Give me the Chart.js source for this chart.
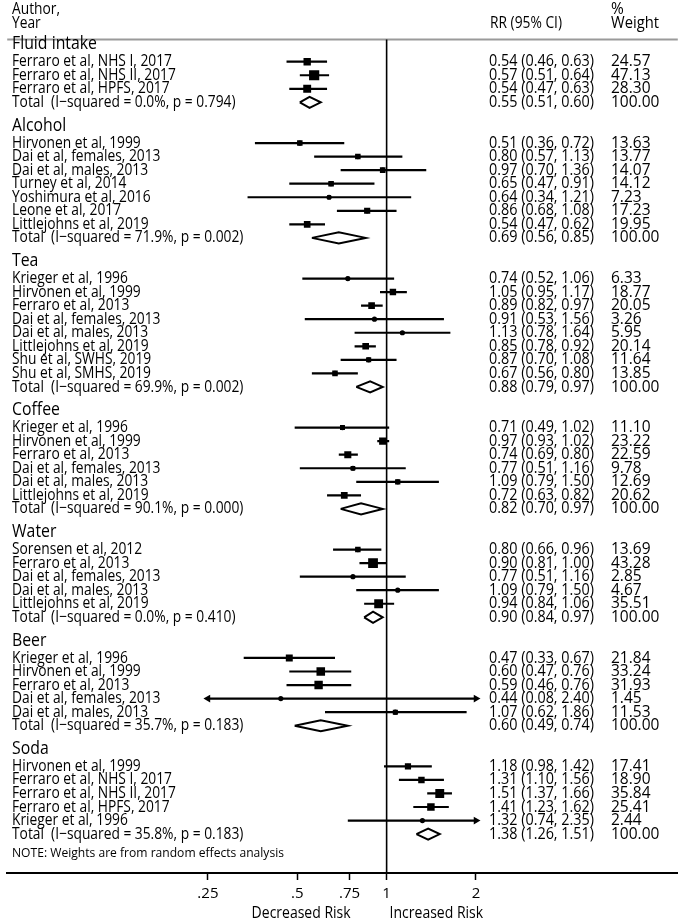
<!DOCTYPE html>
<html>
<head>
<meta charset="utf-8">
<script src="https://cdn.jsdelivr.net/npm/chart.js@4.4.1/dist/chart.umd.min.js"></script>
<style>
html, body { margin: 0; padding: 0; background: #fff; }
#wrap { width: 685px; height: 921px; position: relative; }
</style>
</head>
<body>
<div id="wrap"><canvas id="forest"></canvas></div>
<script>
// subgroups
const groupNames = ['Fluid intake', 'Alcohol', 'Tea', 'Coffee', 'Water', 'Beer', 'Soda'];
const groupSizes = [3, 7, 8, 6, 5, 5, 5];
const groupRR = [0.55, 0.69, 0.88, 0.82, 0.90, 0.60, 1.38];
const groupLo = [0.51, 0.56, 0.79, 0.70, 0.84, 0.49, 1.26];
const groupHi = [0.60, 0.85, 0.97, 0.97, 0.97, 0.74, 1.51];
const groupI2 = ['0.0', '71.9', '69.9', '90.1', '0.0', '35.7', '35.8'];
const groupP = ['0.794', '0.002', '0.002', '0.000', '0.410', '0.183', '0.183'];

// studies, in order of the subgroups above
const studyLabels = [
    'Ferraro et al, NHS I, 2017', 'Ferraro et al, NHS II, 2017', 'Ferraro et al, HPFS, 2017',
    'Hirvonen et al, 1999', 'Dai et al, females, 2013', 'Dai et al, males, 2013', 'Turney et al, 2014',
    'Yoshimura et al, 2016', 'Leone et al, 2017', 'Littlejohns et al, 2019',
    'Krieger et al, 1996', 'Hirvonen et al, 1999', 'Ferraro et al, 2013', 'Dai et al, females, 2013',
    'Dai et al, males, 2013', 'Littlejohns et al, 2019', 'Shu et al, SWHS, 2019', 'Shu et al, SMHS, 2019',
    'Krieger et al, 1996', 'Hirvonen et al, 1999', 'Ferraro et al, 2013', 'Dai et al, females, 2013',
    'Dai et al, males, 2013', 'Littlejohns et al, 2019',
    'Sorensen et al, 2012', 'Ferraro et al, 2013', 'Dai et al, females, 2013', 'Dai et al, males, 2013',
    'Littlejohns et al, 2019',
    'Krieger et al, 1996', 'Hirvonen et al, 1999', 'Ferraro et al, 2013', 'Dai et al, females, 2013',
    'Dai et al, males, 2013',
    'Hirvonen et al, 1999', 'Ferraro et al, NHS I, 2017', 'Ferraro et al, NHS II, 2017',
    'Ferraro et al, HPFS, 2017', 'Krieger et al, 1996'
];
const studyRR = [0.54, 0.57, 0.54,
    0.51, 0.80, 0.97, 0.65, 0.64, 0.86, 0.54,
    0.74, 1.05, 0.89, 0.91, 1.13, 0.85, 0.87, 0.67,
    0.71, 0.97, 0.74, 0.77, 1.09, 0.72,
    0.80, 0.90, 0.77, 1.09, 0.94,
    0.47, 0.60, 0.59, 0.44, 1.07,
    1.18, 1.31, 1.51, 1.41, 1.32];
const studyLo = [0.46, 0.51, 0.47,
    0.36, 0.57, 0.70, 0.47, 0.34, 0.68, 0.47,
    0.52, 0.95, 0.82, 0.53, 0.78, 0.78, 0.70, 0.56,
    0.49, 0.93, 0.69, 0.51, 0.79, 0.63,
    0.66, 0.81, 0.51, 0.79, 0.84,
    0.33, 0.47, 0.46, 0.08, 0.62,
    0.98, 1.10, 1.37, 1.23, 0.74];
const studyHi = [0.63, 0.64, 0.63,
    0.72, 1.13, 1.36, 0.91, 1.21, 1.08, 0.62,
    1.06, 1.17, 0.97, 1.56, 1.64, 0.92, 1.08, 0.80,
    1.02, 1.02, 0.80, 1.16, 1.50, 0.82,
    0.96, 1.00, 1.16, 1.50, 1.06,
    0.67, 0.76, 0.76, 2.40, 1.86,
    1.42, 1.56, 1.66, 1.62, 2.35];
const studyWeight = [24.57, 47.13, 28.30,
    13.63, 13.77, 14.07, 14.12, 7.23, 17.23, 19.95,
    6.33, 18.77, 20.05, 3.26, 5.95, 20.14, 11.64, 13.85,
    11.10, 23.22, 22.59, 9.78, 12.69, 20.62,
    13.69, 43.28, 2.85, 4.67, 35.51,
    21.84, 33.24, 31.93, 1.45, 11.53,
    17.41, 18.90, 35.84, 25.41, 2.44];

const tickValues = [0.25, 0.5, 0.75, 1, 2];
const tickLabels = ['.25', '.5', '.75', '1', '2'];

// plotted range (CIs beyond it get arrows) and scale limits
const plotLo = 0.25, plotHi = 2;
const xMin = 0.0527, xMax = 9.57;
const yMin = -0.64, yMax = 60.87;
const FONT = '"Open Sans", "Noto Sans", sans-serif';

// row layout: header, studies, total, blank line
const rows = [];
let r = 0, s = 0;
groupNames.forEach((name, g) => {
    rows.push({ type: 'head', row: r, g: g });
    r++;
    for (let k = 0; k < groupSizes[g]; k++) {
        rows.push({ type: 'study', row: r, i: s });
        r++; s++;
    }
    rows.push({ type: 'total', row: r, g: g });
    r += 2;
});
const studyRows = rows.filter(o => o.type === 'study');
const totalRows = rows.filter(o => o.type === 'total');

const ciData = [], arrowData = [], arrowRot = [], boxData = [], boxRadius = [], dotData = [];
studyRows.forEach(o => {
    const i = o.i;
    const lo = Math.max(studyLo[i], plotLo), hi = Math.min(studyHi[i], plotHi);
    ciData.push({ x: lo, y: o.row }, { x: hi, y: o.row }, { x: 1, y: null });
    if (studyLo[i] < plotLo) { arrowData.push({ x: plotLo, y: o.row }); arrowRot.push(-90); }
    if (studyHi[i] > plotHi) { arrowData.push({ x: plotHi, y: o.row }); arrowRot.push(90); }
    boxData.push({ x: studyRR[i], y: o.row });
    boxRadius.push(1.05 * Math.sqrt(studyWeight[i]));
    dotData.push({ x: studyRR[i], y: o.row });
});

const dh = 0.41;
const diamondData = [];
totalRows.forEach(o => {
    const g = o.g;
    diamondData.push(
        { x: groupLo[g], y: o.row }, { x: groupRR[g], y: o.row - dh },
        { x: groupHi[g], y: o.row }, { x: groupRR[g], y: o.row + dh },
        { x: groupLo[g], y: o.row }, { x: 1, y: null });
});

function fmt(v) { return v.toFixed(2); }

function textAt(ctx, text, x, y, size, sx, align) {
    ctx.save();
    ctx.font = size + 'px ' + FONT;
    ctx.textAlign = align || 'left';
    ctx.textBaseline = 'middle';
    ctx.translate(x, y);
    ctx.scale(sx, 1);
    ctx.fillText(text, 0, 0);
    ctx.restore();
}

function fitScale(ctx, text, size, target) {
    ctx.save();
    ctx.font = size + 'px ' + FONT;
    const w = ctx.measureText(text).width;
    ctx.restore();
    return target / w;
}

const textPlugin = {
    id: 'forestText',
    afterDraw(chart) {
        const ctx = chart.ctx;
        const ys = chart.scales.y, xs = chart.scales.x;
        ctx.fillStyle = '#000';
        const sHead = fitScale(ctx, 'Fluid intake', 18, 85);
        const sLab = fitScale(ctx, 'Ferraro et al, NHS I, 2017', 16, 160);
        const sVal = fitScale(ctx, '0.54 (0.46, 0.63)', 16, 105);
        const sW = fitScale(ctx, '24.57', 16, 39.5);

        textAt(ctx, 'Author,', 12, 9, 16, sLab);
        textAt(ctx, 'Year', 12, 23, 16, sLab);
        textAt(ctx, 'RR (95% CI)', 490, 23, 16, fitScale(ctx, 'RR (95% CI)', 16, 72));
        textAt(ctx, '%', 611, 9, 16, sW);
        textAt(ctx, 'Weight', 611, 23, 16, fitScale(ctx, 'Weight', 16, 48));

        rows.forEach(o => {
            const y = ys.getPixelForValue(o.row);
            if (o.type === 'head') {
                textAt(ctx, groupNames[o.g], 12, y - 4, 18, sHead);
            } else if (o.type === 'study') {
                const i = o.i;
                textAt(ctx, studyLabels[i], 12, y, 16, sLab);
                textAt(ctx, fmt(studyRR[i]) + ' (' + fmt(studyLo[i]) + ', ' + fmt(studyHi[i]) + ')', 489, y, 16, sVal);
                textAt(ctx, fmt(studyWeight[i]), 611, y, 16, sW);
            } else {
                const g = o.g;
                textAt(ctx, 'Total  (I\u2212squared = ' + groupI2[g] + '%, p = ' + groupP[g] + ')', 12, y, 16, sLab);
                textAt(ctx, fmt(groupRR[g]) + ' (' + fmt(groupLo[g]) + ', ' + fmt(groupHi[g]) + ')', 489, y, 16, sVal);
                textAt(ctx, '100.00', 611, y, 16, sW);
            }
        });

        const note = 'NOTE: Weights are from random effects analysis';
        textAt(ctx, note, 12, 853, 13, fitScale(ctx, note, 13, 272));

        const x1 = xs.getPixelForValue(1);
        const sR = fitScale(ctx, 'Decreased Risk', 16, 99);
        textAt(ctx, 'Decreased Risk', x1 - 36, 913, 16, sR, 'right');
        textAt(ctx, 'Increased Risk', x1 + 3, 913, 16, sR, 'left');
    }
};

const plainPoint = { pointRadius: 0, pointHoverRadius: 0 };

new Chart(document.getElementById('forest'), {
    type: 'scatter',
    data: {
        datasets: [
            {
                data: dotData, pointStyle: 'circle', pointRadius: 2.6, pointHoverRadius: 2.6,
                backgroundColor: '#000', borderWidth: 0
            },
            {
                data: boxData, pointStyle: 'rect', pointRadius: ctx => boxRadius[ctx.dataIndex],
                pointHoverRadius: ctx => boxRadius[ctx.dataIndex], backgroundColor: '#000', borderWidth: 0
            },
            {
                data: arrowData, pointStyle: 'triangle', pointRadius: 4.5, pointHoverRadius: 4.5,
                pointRotation: ctx => arrowRot[ctx.dataIndex], backgroundColor: '#000', borderWidth: 0
            },
            Object.assign({
                data: ciData, showLine: true, spanGaps: false, borderColor: '#000', borderWidth: 2.2
            }, plainPoint),
            Object.assign({
                data: diamondData, showLine: true, spanGaps: false, borderColor: '#000', borderWidth: 2,
                borderJoinStyle: 'miter', backgroundColor: '#fff'
            }, plainPoint),
            Object.assign({
                data: [{ x: 1, y: yMin }, { x: 1, y: yMax }], showLine: true,
                borderColor: '#000', borderWidth: 1.6, clip: false
            }, plainPoint),
            Object.assign({
                data: [{ x: xMin, y: yMin }, { x: xMax, y: yMin }], showLine: true,
                borderColor: '#9a9a9a', borderWidth: 2, clip: false
            }, plainPoint)
        ]
    },
    options: {
        responsive: true,
        maintainAspectRatio: false,
        animation: false,
        events: [],
        layout: { padding: { top: 39.5, left: 0, right: 0, bottom: 0 } },
        plugins: {
            legend: { display: false },
            tooltip: { enabled: false }
        },
        scales: {
            x: {
                type: 'logarithmic',
                min: xMin,
                max: xMax,
                afterBuildTicks: sc => { sc.ticks = tickValues.map(v => ({ value: v })); },
                afterFit: sc => { sc.height = 48; },
                ticks: {
                    autoSkip: false, maxRotation: 0, minRotation: 0, padding: 5, color: '#000',
                    font: { family: FONT, size: 15 },
                    callback: (v, i) => tickLabels[i]
                },
                grid: {
                    drawOnChartArea: false, drawTicks: true, tickLength: 7,
                    tickWidth: 1.5, tickColor: '#000'
                },
                border: { display: true, color: '#000', width: 2 }
            },
            y: {
                type: 'linear',
                reverse: true,
                min: yMin,
                max: yMax,
                display: false
            }
        }
    },
    plugins: [textPlugin]
});
</script>
</body>
</html>
